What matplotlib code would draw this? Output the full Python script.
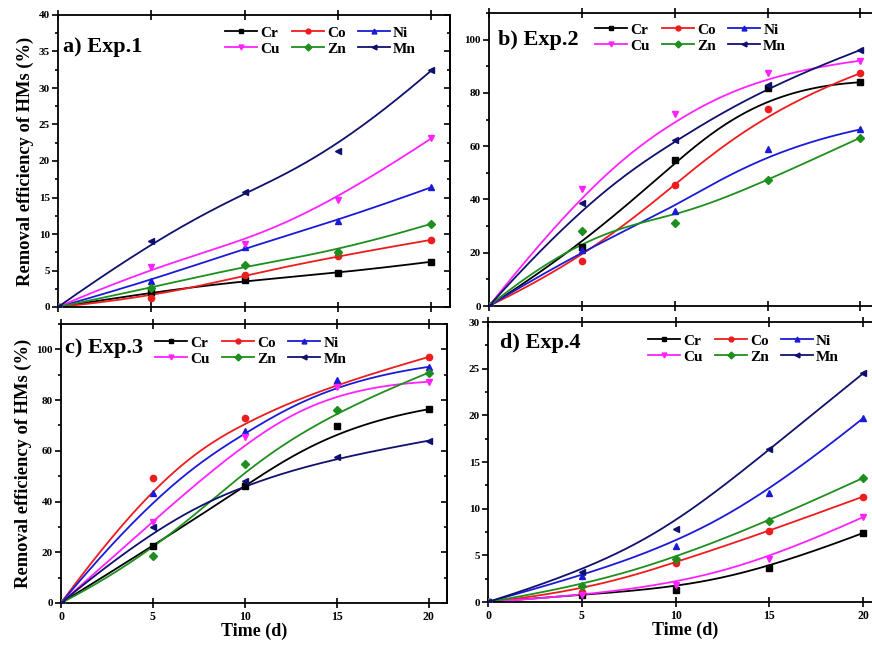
# -*- coding: utf-8 -*-
"""
Removal efficiency of heavy metals over time, four experiments
"""

# %% Packages

import numpy as np
import matplotlib
matplotlib.use("Agg")
import matplotlib.pyplot as plt
from matplotlib.ticker import MultipleLocator

plt.rcParams["font.family"] = "Liberation Serif"
plt.rcParams["font.weight"] = "bold"

# %% Data

time_d = [0, 5, 10, 15, 20]
metals = ["Cr", "Co", "Ni", "Cu", "Zn", "Mn"]

exp1_cr = [0, 2.0, 3.7, 4.6, 6.2]
exp1_co = [0, 1.3, 4.4, 7.0, 9.2]
exp1_ni = [0, 3.6, 8.2, 11.8, 16.4]
exp1_cu = [0, 5.5, 8.6, 14.7, 23.1]
exp1_zn = [0, 2.6, 5.8, 7.6, 11.4]
exp1_mn = [0, 9.0, 15.8, 21.4, 32.4]

exp2_cr = [0, 22.2, 54.9, 81.9, 84.0]
exp2_co = [0, 17.0, 45.6, 74.0, 87.4]
exp2_ni = [0, 21.2, 35.7, 58.8, 66.3]
exp2_cu = [0, 43.8, 72.2, 87.4, 92.1]
exp2_zn = [0, 28.1, 31.3, 47.2, 63.2]
exp2_mn = [0, 38.8, 62.4, 82.8, 96.1]

exp3_cr = [0, 22.4, 46.0, 69.9, 76.4]
exp3_co = [0, 49.3, 73.1, 86.5, 97.0]
exp3_ni = [0, 43.4, 67.9, 87.8, 93.1]
exp3_cu = [0, 32.1, 65.3, 85.2, 87.2]
exp3_zn = [0, 18.7, 55.0, 76.0, 90.8]
exp3_mn = [0, 29.9, 48.0, 57.4, 64.0]

exp4_cr = [0, 0.8, 1.3, 3.6, 7.4]
exp4_co = [0, 1.1, 4.2, 7.6, 11.3]
exp4_ni = [0, 2.8, 6.0, 11.7, 19.7]
exp4_cu = [0, 0.7, 1.8, 4.6, 9.1]
exp4_zn = [0, 1.7, 4.6, 8.7, 13.3]
exp4_mn = [0, 3.2, 7.8, 16.4, 24.5]

panels = [
    ("a) Exp.1", [exp1_cr, exp1_co, exp1_ni, exp1_cu, exp1_zn, exp1_mn], 40, 5),
    ("b) Exp.2", [exp2_cr, exp2_co, exp2_ni, exp2_cu, exp2_zn, exp2_mn], 110, 20),
    ("c) Exp.3", [exp3_cr, exp3_co, exp3_ni, exp3_cu, exp3_zn, exp3_mn], 110, 20),
    ("d) Exp.4", [exp4_cr, exp4_co, exp4_ni, exp4_cu, exp4_zn, exp4_mn], 30, 5),
]

colours = ["black", "#ee1c1c", "#1a1ad8", "#ff22ff", "#1e8f1e", "#10106e"]
markers = ["s", "o", "^", "v", "D", "<"]


# %% B-spline through the points (control points = data)

def bspline(x, y, n=200, k=3):
    P = np.column_stack([x, y]).astype(float)
    m = len(P)
    knots = np.concatenate([[0.0] * k, np.linspace(0, 1, m - k + 1), [1.0] * k])
    t = np.linspace(0, 1, n)
    t[-1] = 1 - 1e-9
    # degree 0
    N = np.zeros((n, len(knots) - 1))
    for i in range(len(knots) - 1):
        N[:, i] = (t >= knots[i]) & (t < knots[i + 1])
    for d in range(1, k + 1):
        Nn = np.zeros((n, len(knots) - 1 - d))
        for i in range(len(knots) - 1 - d):
            a = knots[i + d] - knots[i]
            b = knots[i + d + 1] - knots[i + 1]
            term = 0
            if a > 0:
                term = term + (t - knots[i]) / a * N[:, i]
            if b > 0:
                term = term + (knots[i + d + 1] - t) / b * N[:, i + 1]
            Nn[:, i] = term
        N = Nn
    C = N @ P
    return C[:, 0], C[:, 1]


# %% Figure

fig = plt.figure(figsize=(8.72, 6.48), dpi=100)

# axes boxes in pixels: left, top, right, bottom
boxes = [(58, 15, 450, 307),
         (489, 13, 879, 306),
         (61, 324, 447, 603),
         (488, 322, 882, 602)]

leg_anchor = [(0.426, 0.962), (0.272, 0.966), (0.244, 0.957), (0.406, 0.957)]
title_pos = [(0.013, 0.89), (0.023, 0.908), (0.01, 0.914), (0.03, 0.925)]

# row-wise legend: Cr Co Ni / Cu Zn Mn
leg_order = [0, 3, 1, 4, 2, 5]

for p in range(4):
    l, t, r, b = boxes[p]
    ax = fig.add_axes([l / 872, 1 - b / 648, (r - l) / 872, (b - t) / 648])
    title, series, ymax, ymaj = panels[p]

    handles = []
    for j in range(len(metals)):
        xs, ys = bspline(time_d, series[j])
        ax.plot(xs, ys, color=colours[j], lw=1.3, zorder=2)
        ax.plot(time_d, series[j], ls="none", marker=markers[j],
                color=colours[j], ms=4.5, zorder=3)
        # legend handle only
        h, = ax.plot([], [], color=colours[j], marker=markers[j], ms=3.5,
                     lw=1.3, label=metals[j])
        handles.append(h)

    ax.set_xlim(0, 21)
    ax.set_ylim(0, ymax)
    ax.set_xticks([0, 5, 10, 15, 20])
    ax.yaxis.set_major_locator(MultipleLocator(ymaj))
    ax.yaxis.set_minor_locator(MultipleLocator(ymaj / 2))
    ax.tick_params(axis="x", which="major", direction="inout", length=7,
                   width=1.2, top=True, labelsize=8.5)
    ax.tick_params(axis="y", which="both", direction="out", width=1.2,
                   labelsize=8)
    ax.tick_params(axis="y", which="major", length=4)
    ax.tick_params(axis="y", which="minor", length=2.5)
    ax.tick_params(axis="both", which="both", pad=2)

    # right side ticks point inward
    sec = ax.secondary_yaxis("right")
    sec.yaxis.set_major_locator(MultipleLocator(ymaj))
    sec.yaxis.set_minor_locator(MultipleLocator(ymaj / 2))
    sec.tick_params(which="both", direction="in", width=1.2, labelright=False)
    sec.tick_params(which="major", length=4)
    sec.tick_params(which="minor", length=2.5)
    sec.spines["right"].set_linewidth(1.3)

    for s in ax.spines.values():
        s.set_linewidth(1.3)
    if p < 2:
        ax.set_xticklabels([])
    else:
        ax.set_xlabel("Time (d)", fontsize=13, fontweight="bold", labelpad=0)
    if p in (0, 2):
        ax.set_ylabel("Removal efficiency of HMs (%)", fontsize=13.3,
                      fontweight="bold", labelpad=3)

    ax.text(title_pos[p][0], title_pos[p][1], title, transform=ax.transAxes,
            fontsize=16, fontweight="bold", va="center", ha="left")

    ax.legend([handles[i] for i in leg_order], [metals[i] for i in leg_order],
              loc="upper left", bbox_to_anchor=leg_anchor[p], ncol=3,
              frameon=False, fontsize=11, handlelength=2.1,
              handletextpad=0.2, columnspacing=0.8, labelspacing=0.15,
              borderpad=0, borderaxespad=0)

plt.savefig("out.png", dpi=100)
plt.close()
